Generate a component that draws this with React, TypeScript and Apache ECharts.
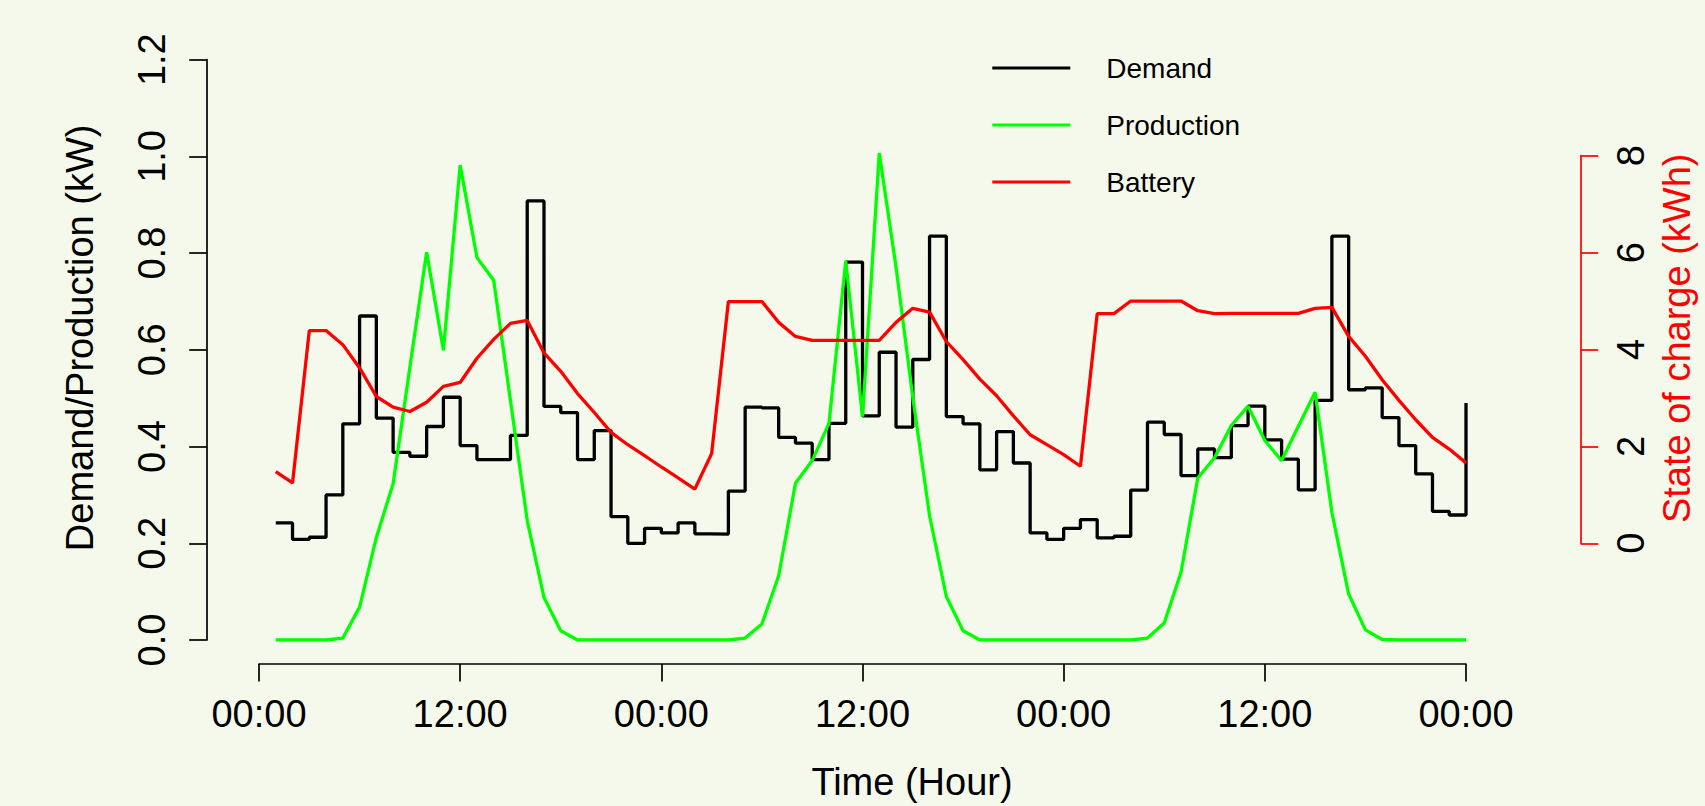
import React, { useEffect, useRef } from "react";
import * as echarts from "echarts";

// x positions (hours since start)
const hours: number[] = Array.from({ length: 72 }, (_, i) => i + 1);

const demand: number[] = [
  0.242, 0.208, 0.2125, 0.3, 0.447, 0.67, 0.459, 0.388, 0.38, 0.4415,
  0.502, 0.402, 0.373, 0.373, 0.423, 0.908, 0.483, 0.47, 0.373, 0.433,
  0.255, 0.2, 0.231, 0.2215, 0.242, 0.2195, 0.219, 0.308, 0.4815, 0.48,
  0.419, 0.407, 0.373, 0.448, 0.7815, 0.4635, 0.595, 0.44, 0.58, 0.835,
  0.462, 0.447, 0.352, 0.431, 0.366, 0.2215, 0.208, 0.231, 0.249, 0.211,
  0.2145, 0.31, 0.4505, 0.425, 0.34, 0.395, 0.377, 0.4435, 0.4835, 0.414,
  0.374, 0.3105, 0.4955, 0.835, 0.5175, 0.5215, 0.46, 0.402, 0.3435, 0.266,
  0.2585, 0.49,
];

const production: number[] = [
  0, 0, 0, 0, 0.004, 0.068, 0.212, 0.323, 0.564, 0.802,
  0.599, 0.982, 0.791, 0.744, 0.495, 0.247, 0.088, 0.019, 0, 0,
  0, 0, 0, 0, 0, 0, 0, 0, 0.004, 0.033,
  0.133, 0.324, 0.371, 0.448, 0.784, 0.462, 1.007, 0.771, 0.502, 0.257,
  0.09, 0.019, 0, 0, 0, 0, 0, 0, 0, 0,
  0, 0, 0.004, 0.035, 0.14, 0.335, 0.377, 0.4435, 0.4835, 0.4125,
  0.371, 0.442, 0.5125, 0.264, 0.095, 0.021, 0.001, 0, 0, 0,
  0, 0,
];

const battery: number[] = [
  1.48, 1.245, 4.39, 4.39, 4.1, 3.62, 3.03, 2.81, 2.72, 2.91,
  3.24, 3.32, 3.82, 4.21, 4.54, 4.6, 3.93, 3.55, 3.09, 2.7,
  2.29, 2.035, 1.81, 1.575, 1.35, 1.12, 1.85, 4.99, 4.99, 4.99,
  4.56, 4.27, 4.19, 4.19, 4.19, 4.19, 4.19, 4.56, 4.85, 4.77,
  4.165, 3.79, 3.39, 3.045, 2.63, 2.24, 2.035, 1.83, 1.59, 4.74,
  4.74, 5.0, 5.0, 5.0, 5.0, 4.8, 4.74, 4.745, 4.745, 4.745,
  4.745, 4.745, 4.85, 4.87, 4.27, 3.86, 3.375, 2.95, 2.55, 2.185,
  1.945, 1.66,
];

const timeTickLabels: string[] = ["00:00", "12:00", "00:00", "12:00", "00:00", "12:00", "00:00"];
const powerTickLabels: string[] = ["0.0", "0.2", "0.4", "0.6", "0.8", "1.0", "1.2"];
const socTickLabels: string[] = ["0", "2", "4", "6", "8"];

const BG = "#f5f9ec";
const FONT = "'Liberation Sans', Arial, Helvetica, sans-serif";

export default function App() {
  const ref = useRef<HTMLDivElement>(null);

  useEffect(() => {
    document.body.style.margin = "0";
    document.body.style.background = BG;
    const chart = echarts.init(ref.current as HTMLDivElement, null, { renderer: "svg" });
    chart.setOption({
      animation: false,
      backgroundColor: BG,
      textStyle: { fontFamily: FONT },
      grid: [
        { left: 259, right: 239, top: 59.7, bottom: 165.7 },
        { left: 259, right: 239, top: 155.7, bottom: 262.7 },
      ],
      xAxis: [
        {
          type: "value",
          gridIndex: 0,
          min: 0,
          max: 72,
          interval: 12,
          position: "bottom",
          offset: 24,
          axisLine: { show: true, onZero: false, lineStyle: { color: "#000", width: 1.7 } },
          axisTick: { show: true, length: 17.5, lineStyle: { color: "#000", width: 1.7 } },
          axisLabel: {
            margin: 31,
            fontSize: 38,
            color: "#000",
            fontFamily: FONT,
            showMinLabel: true,
            showMaxLabel: true,
            formatter: (v: number) => timeTickLabels[Math.round(v / 12)],
          },
          splitLine: { show: false },
          name: "Time (Hour)",
          nameLocation: "middle",
          nameGap: 99,
          nameTextStyle: { fontSize: 38, color: "#000", fontFamily: FONT, padding: [0, 0, 0, 99] },
        },
        { type: "value", gridIndex: 1, min: 0, max: 72, show: false },
      ],
      yAxis: [
        {
          type: "value",
          gridIndex: 0,
          min: 0,
          max: 1.2,
          interval: 0.2,
          position: "left",
          offset: 52.3,
          axisLine: { show: true, onZero: false, lineStyle: { color: "#000", width: 1.7 } },
          axisTick: { show: true, length: 17.5, lineStyle: { color: "#000", width: 1.7 } },
          axisLabel: {
            rotate: 90,
            margin: 36,
            fontSize: 38,
            color: "#000",
            fontFamily: FONT,
            showMinLabel: true,
            showMaxLabel: true,
            formatter: (v: number) => powerTickLabels[Math.round(v / 0.2)],
          },
          splitLine: { show: false },
          name: "Demand/Production (kW)",
          nameLocation: "middle",
          nameGap: 108,
          nameTextStyle: { fontSize: 38, color: "#000", fontFamily: FONT, padding: [0, 0, 0, 24] },
        },
        {
          type: "value",
          gridIndex: 1,
          min: 0,
          max: 8,
          interval: 2,
          position: "right",
          offset: 114.7,
          axisLine: { show: true, onZero: false, lineStyle: { color: "#ff0000", width: 1.7 } },
          axisTick: { show: true, length: 17.5, lineStyle: { color: "#ff0000", width: 1.7 } },
          axisLabel: {
            rotate: 90,
            margin: 31,
            fontSize: 38,
            color: "#000",
            fontFamily: FONT,
            showMinLabel: true,
            showMaxLabel: true,
            formatter: (v: number) => socTickLabels[Math.round(v / 2)],
          },
          splitLine: { show: false },
          name: "State of charge (kWh)",
          nameLocation: "middle",
          nameGap: 67.6,
          nameTextStyle: { fontSize: 38, color: "#ff0000", fontFamily: FONT, padding: [0, 0, 0, 22.4] },
        },
      ],
      legend: {
        orient: "vertical",
        left: 987.3,
        top: 34.5,
        itemWidth: 78,
        itemHeight: 3,
        itemGap: 0,
        icon: "rect",
        selectedMode: false,
        data: ["Demand", "Production", "Battery"],
        textStyle: {
          fontSize: 28,
          color: "#000",
          fontFamily: FONT,
          lineHeight: 57,
          padding: [0, 0, 0, 31],
        },
      },
      series: [
        {
          name: "Demand",
          type: "line",
          step: "end",
          xAxisIndex: 0,
          yAxisIndex: 0,
          data: hours.map((h, i) => [h, demand[i]]),
          symbol: "none",
          showSymbol: false,
          color: "#000000",
          lineStyle: { color: "#000000", width: 3.3 },
        },
        {
          name: "Production",
          type: "line",
          xAxisIndex: 0,
          yAxisIndex: 0,
          data: hours.map((h, i) => [h, production[i]]),
          symbol: "none",
          showSymbol: false,
          color: "#00ff00",
          lineStyle: { color: "#00ff00", width: 3.3 },
        },
        {
          name: "Battery",
          type: "line",
          xAxisIndex: 1,
          yAxisIndex: 1,
          data: hours.map((h, i) => [h, battery[i]]),
          symbol: "none",
          showSymbol: false,
          color: "#ff0000",
          lineStyle: { color: "#ff0000", width: 3.3 },
        },
      ],
    });
    return () => {
      chart.dispose();
    };
  }, []);

  return <div ref={ref} style={{ width: 1705, height: 806 }} />;
}
